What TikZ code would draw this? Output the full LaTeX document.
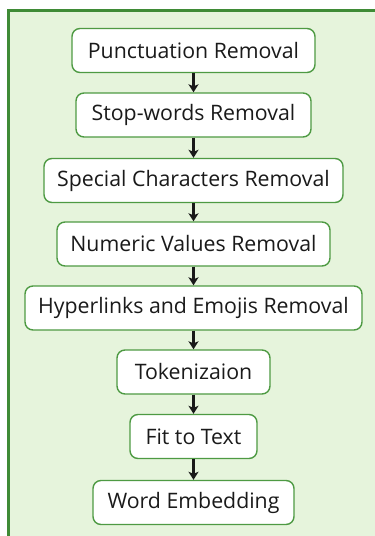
\documentclass[tikz,border=0pt]{standalone}
\usepackage{fontspec}
\setmainfont{Open Sans}
\usetikzlibrary{arrows.meta}
\definecolor{bgg}{HTML}{E6F4DC}
\definecolor{frameg}{HTML}{3F8B36}
\definecolor{boxg}{HTML}{4E9A43}
\definecolor{txt}{HTML}{1A1A1A}
\tikzset{
  stepbox/.style={draw=boxg, line width=1.4pt, fill=white, rounded corners=8pt,
    minimum height=44pt, inner sep=0pt, text=txt, font=\fontsize{21.3}{25}\selectfont},
  flow/.style={-{Stealth[length=8pt,width=10pt,inset=2pt]}, line width=2.1pt, black!90}
}
\begin{document}
\begin{tikzpicture}[x=1pt,y=-1pt]
\useasboundingbox (0,0) rectangle (375,536);
\clip (0,0) rectangle (375,536);
\fill[bgg] (8.7,10.7) rectangle (390,550);
\draw[frameg, line width=3pt] (8.7,550) -- (8.7,10.7) -- (390,10.7);
\node[stepbox, minimum width=243pt] (b1) at (193.5,50.5) {Punctuation Removal};
\node[stepbox, minimum width=235pt] (b2) at (193.5,115) {Stop-words Removal};
\node[stepbox, minimum width=299pt] (b3) at (193.5,180.5) {Special Characters Removal};
\node[stepbox, minimum width=273pt] (b4) at (193.5,244) {Numeric Values Removal};
\node[stepbox, minimum width=337pt] (b5) at (193.5,308) {Hyperlinks and Emojis Removal};
\node[stepbox, minimum width=153pt] (b6) at (193.5,372) {Tokenizaion};
\node[stepbox, minimum width=127pt] (b7) at (193.5,436.5) {Fit to Text};
\node[stepbox, minimum width=201pt] (b8) at (193.5,502.5) {Word Embedding};
\foreach \a/\b in {b1/b2,b2/b3,b3/b4,b4/b5,b5/b6,b6/b7,b7/b8}
  \draw[flow] (\a.south) -- (\b.north);
\end{tikzpicture}
\end{document}
